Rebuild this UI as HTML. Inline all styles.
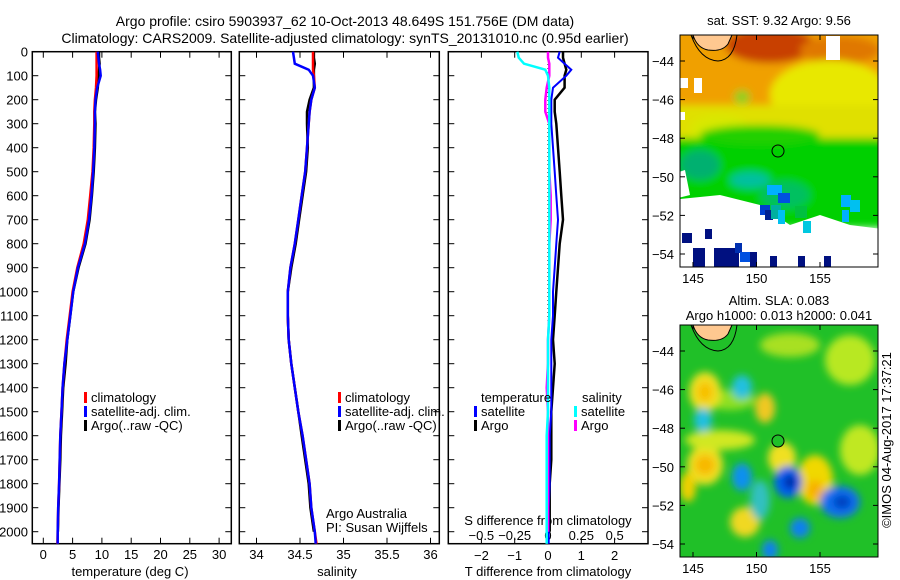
<!DOCTYPE html>
<html><head><meta charset="utf-8"><style>
body{margin:0;background:#fff;}
svg{display:block;font-family:"Liberation Sans",sans-serif;}
text{font-size:13px;fill:#000;}
</style></head><body>
<svg id="c" width="900" height="580" viewBox="0 0 900 580" xmlns="http://www.w3.org/2000/svg">
<defs>
<filter id="blur4" x="-20%" y="-20%" width="140%" height="140%"><feGaussianBlur stdDeviation="4"/></filter>
<filter id="blur8" x="-30%" y="-30%" width="160%" height="160%"><feGaussianBlur stdDeviation="4"/></filter>
<clipPath id="clipTop"><rect x="680" y="35" width="198" height="232"/></clipPath>
<clipPath id="clipBot"><rect x="680" y="325" width="198" height="232"/></clipPath>
</defs>
<text x="345" y="26" text-anchor="middle" style="font-size:14px">Argo profile: csiro 5903937_62 10-Oct-2013 48.649S 151.756E (DM data)</text>
<text x="345" y="43" text-anchor="middle" style="font-size:14px">Climatology: CARS2009. Satellite-adjusted climatology: synTS_20131010.nc (0.95d earlier)</text>
<g id="maps">
<text x="779" y="25" text-anchor="middle">sat. SST: 9.32 Argo: 9.56</text>
<g clip-path="url(#clipTop)">
<g filter="url(#blur4)">
<rect x="670" y="25" width="220" height="90" fill="#f0a000"/>
<ellipse cx="770" cy="45" rx="45" ry="18" fill="#c84000"/>
<ellipse cx="840" cy="50" rx="40" ry="14" fill="#e07800"/>
<ellipse cx="830" cy="95" rx="60" ry="35" fill="#e8e800"/>
<rect x="670" y="105" width="220" height="40" fill="#e0e000"/>
<ellipse cx="720" cy="130" rx="30" ry="15" fill="#d8e800"/>
<ellipse cx="742" cy="97" rx="8" ry="7" fill="#90d020"/>
<rect x="670" y="138" width="220" height="90" fill="#00d000"/>
<ellipse cx="760" cy="135" rx="60" ry="10" fill="#20d000"/>
<ellipse cx="700" cy="165" rx="20" ry="15" fill="#00b070"/>
<ellipse cx="785" cy="195" rx="25" ry="14" fill="#00c060"/>
<ellipse cx="750" cy="180" rx="20" ry="8" fill="#00c0a0"/>
</g>
<polygon points="670,200 720,195 760,205 790,225 820,215 850,225 890,230 890,290 670,290" fill="#fff"/>
<polygon points="670,175 685,170 690,195 670,200" fill="#fff"/>
<rect x="767" y="185" width="15" height="10" fill="#00b0ff"/>
<rect x="778" y="193" width="12" height="10" fill="#0050e0"/>
<rect x="760" y="205" width="10" height="10" fill="#0040d0"/>
<rect x="765" y="210" width="8" height="10" fill="#002090"/>
<rect x="771" y="205" width="10" height="14" fill="#00b0a0"/>
<rect x="778" y="210" width="7" height="14" fill="#00c0f0"/>
<rect x="795" y="206" width="12" height="12" fill="#00c040"/>
<rect x="841" y="195" width="10" height="12" fill="#00b0ff"/>
<rect x="850" y="200" width="10" height="12" fill="#00c0f0"/>
<rect x="842" y="210" width="7" height="12" fill="#00b0ff"/>
<rect x="803" y="221" width="8" height="12" fill="#00c8e0"/>
<rect x="682" y="233" width="10" height="10" fill="#001080"/>
<rect x="705" y="229" width="7" height="10" fill="#001080"/>
<rect x="693" y="248" width="12" height="20" fill="#001080"/>
<rect x="714" y="248" width="25" height="20" fill="#001080"/>
<rect x="735" y="243" width="7" height="10" fill="#0030b0"/>
<rect x="740" y="252" width="12" height="10" fill="#0050e0"/>
<rect x="750" y="252" width="7" height="16" fill="#001080"/>
<rect x="770" y="256" width="7" height="12" fill="#001080"/>
<rect x="798" y="256" width="7" height="12" fill="#001080"/>
<rect x="824" y="256" width="7" height="12" fill="#001080"/>
<rect x="826" y="36" width="14" height="24" fill="#fff"/>
<rect x="680" y="78" width="8" height="10" fill="#fff"/>
<rect x="694" y="78" width="8" height="15" fill="#fff"/>
<rect x="680" y="112" width="5" height="8" fill="#fff"/>
<path d="M693,35 Q697,48 708,50 Q722,52 728,44 L732,35 Z" fill="#ffc890" stroke="#000" stroke-width="1"/>
<path d="M691,35 Q700,60 718,61 Q734,60 737,35" fill="none" stroke="#000" stroke-width="1"/>
</g>
<rect x="680" y="35" width="198" height="232" fill="none" stroke="#000"/>
<circle cx="778" cy="151" r="6" fill="none" stroke="#000"/>

<text x="779" y="305" text-anchor="middle">Altim. SLA: 0.083</text>
<text x="779" y="320" text-anchor="middle">Argo h1000: 0.013 h2000: 0.041</text>
<g clip-path="url(#clipBot)">
<rect x="680" y="325" width="198" height="232" fill="#20c028"/>
<g filter="url(#blur8)">
<ellipse cx="790" cy="345" rx="30" ry="12" fill="#a8e020"/>
<ellipse cx="850" cy="360" rx="25" ry="25" fill="#b8e820"/>
<ellipse cx="730" cy="400" rx="25" ry="10" fill="#90e020"/>
<ellipse cx="705" cy="392" rx="16" ry="20" fill="#f0e020"/>
<ellipse cx="705" cy="392" rx="8" ry="10" fill="#f8c000"/>
<ellipse cx="765" cy="408" rx="10" ry="15" fill="#f0c820"/>
<ellipse cx="705" cy="465" rx="18" ry="20" fill="#f0e020"/>
<ellipse cx="705" cy="465" rx="10" ry="10" fill="#f8b800"/>
<ellipse cx="688" cy="487" rx="8" ry="15" fill="#f0d000"/>
<ellipse cx="782" cy="458" rx="14" ry="16" fill="#f0e020"/>
<ellipse cx="815" cy="480" rx="18" ry="25" fill="#f0d800"/>
<ellipse cx="815" cy="490" rx="8" ry="10" fill="#f8b000"/>
<ellipse cx="745" cy="522" rx="15" ry="15" fill="#f0d820"/>
<ellipse cx="720" cy="440" rx="35" ry="10" fill="#d0e820"/>
<ellipse cx="860" cy="450" rx="20" ry="25" fill="#c0e820"/>
<ellipse cx="742" cy="387" rx="10" ry="12" fill="#20c0e0"/>
<ellipse cx="703" cy="420" rx="9" ry="12" fill="#20c0e0"/>
<ellipse cx="742" cy="477" rx="10" ry="14" fill="#1090f0"/>
<ellipse cx="788" cy="482" rx="14" ry="16" fill="#0060f0"/>
<ellipse cx="790" cy="482" rx="6" ry="7" fill="#0020a0"/>
<ellipse cx="840" cy="502" rx="20" ry="16" fill="#1070f0"/>
<ellipse cx="842" cy="502" rx="9" ry="7" fill="#0040c0"/>
<ellipse cx="800" cy="528" rx="10" ry="10" fill="#1080f0"/>
<ellipse cx="770" cy="550" rx="8" ry="10" fill="#1080f0"/>
<ellipse cx="760" cy="500" rx="10" ry="20" fill="#30c0c0"/>
</g>
<path d="M693,325 Q697,338 708,340 Q722,342 728,334 L732,325 Z" fill="#ffc890" stroke="#000" stroke-width="1"/>
<path d="M691,325 Q700,350 718,351 Q734,350 737,325" fill="none" stroke="#000" stroke-width="1"/>
</g>
<rect x="680" y="325" width="198" height="232" fill="none" stroke="#000"/>
<circle cx="778" cy="441" r="6" fill="#20c028" stroke="#000"/>
<text transform="translate(891,440) rotate(-90)" text-anchor="middle">©IMOS 04-Aug-2017 17:37:21</text>
</g>
</svg>
<script>
const depths = [0,25,50,75,100,150,200,250,300,400,500,600,700,800,900,1000,1100,1200,1300,1400,1500,1600,1700,1800,1900,2000,2050];
const tClim = [9.1,9.1,9.1,9.1,9.1,9.0,8.8,8.7,8.7,8.6,8.4,8.0,7.6,6.9,5.8,5.0,4.5,4.0,3.6,3.3,3.1,2.9,2.8,2.7,2.55,2.45,2.4];
const tSat = [9.3,9.4,9.5,9.7,9.8,9.2,8.9,8.8,8.8,8.7,8.5,8.2,7.8,7.1,5.9,5.1,4.6,4.1,3.6,3.3,3.1,2.9,2.8,2.7,2.55,2.45,2.45];
const tArgo = [9.5,9.5,9.6,9.5,9.4,9.3,9.0,8.8,8.9,8.8,8.6,8.3,7.9,7.2,6.0,5.1,4.6,4.1,3.8,3.4,3.2,3.0,2.9,2.75,2.6,2.5,null];
const sClim = [34.65,34.65,34.65,34.65,34.66,34.67,34.63,34.61,34.6,34.58,34.56,34.52,34.48,34.44,34.39,34.36,34.36,34.37,34.4,34.44,34.48,34.53,34.57,34.61,34.63,34.67,34.69];
const sSat = [34.42,34.43,34.44,34.6,34.65,34.67,34.63,34.61,34.6,34.58,34.56,34.52,34.48,34.44,34.39,34.36,34.36,34.37,34.4,34.44,34.48,34.53,34.57,34.61,34.63,34.67,34.68];
const sArgo = [34.66,34.66,34.67,34.66,34.66,34.66,34.61,34.58,34.58,34.59,34.57,34.53,34.49,34.45,34.40,34.36,34.36,34.37,34.40,34.44,34.48,34.52,34.56,34.60,34.62,34.66,null];
const tDiffSat = [0.35,0.3,0.5,0.7,0.55,0.15,0.1,0.1,0.1,0.15,0.2,0.25,0.3,0.25,0.2,0.15,0.15,0.1,0.1,0.1,0.1,0.05,0.05,0.05,0.02,0.02,0.02];
const tDiffArgo = [0.45,0.45,0.5,0.55,0.5,0.5,0.2,0.2,0.25,0.3,0.35,0.4,0.45,0.35,0.3,0.25,0.2,0.15,0.2,0.15,0.1,0.1,0.1,0.05,0.05,0.05,null];
const sDiffSat = [-0.23,-0.22,-0.18,-0.02,0,0.01,0.01,0.01,0.01,0.01,0.01,0.01,0.01,0.01,0.01,0.01,0.01,0.0,0.0,0.0,0.0,-0.01,-0.01,-0.01,-0.01,-0.01,-0.01];
const sDiffArgo = [0,0,0.01,0.01,0.01,-0.01,-0.02,-0.02,0.01,0.01,0.01,0.02,0.02,0.01,0.01,0.01,0.01,0,0,-0.01,0,0,0,0,0,0,null];
const depthTicks = [0,100,200,300,400,500,600,700,800,900,1000,1100,1200,1300,1400,1500,1600,1700,1800,1900,2000];
const tTicks = [0,5,10,15,20,25,30];
const sTicks = [34,34.5,35,35.5,36];
const dTTicks = [-2,-1,0,1,2];
const dSTicks = [-0.5,-0.25,0,0.25,0.5];
const dSTickLabels = ["-0.5","-0.25","0","0.25","0.5"];
const latTicks = [-44,-46,-48,-50,-52,-54];
const lonTicks = [145,150,155];

const NS='http://www.w3.org/2000/svg';
const svg=document.getElementById('c');
function mk(tag,attrs,parent){const e=document.createElementNS(NS,tag);for(const k in attrs)e.setAttribute(k,attrs[k]);(parent||svg).appendChild(e);return e;}
function txt(x,y,s,anchor,parent){const e=mk('text',{x:x,y:y,'text-anchor':anchor||'start'},parent);e.textContent=s;return e;}

const yD=d=>51.7+d*0.2400;
const xT=v=>43.3+v*5.86;
const xS=v=>300+(v-34.5)*87;
const xDT=v=>548+v*33.3;
const xDS=v=>548+v*133.3;
const yTop=lat=>61+(-44-lat)*19.3;
const yBot=lat=>351+(-44-lat)*19.3;
const xLon=lon=>693+(lon-145)*12.7;

function panel(name){
  const g=mk('g',{});
  
  
  return g;
}
function frame(g,x0,x1,name){
  const r=mk('rect',{x:x0,y:51.7,width:x1-x0,height:492,fill:'none',stroke:'#000','stroke-width':1.5},g);
  
  
  depthTicks.forEach(d=>{
    mk('line',{x1:x0,x2:x0+6,y1:yD(d),y2:yD(d),stroke:'#000'},g);
    mk('line',{x1:x1,x2:x1-6,y1:yD(d),y2:yD(d),stroke:'#000'},g);
  });
}
function stepLine(g,xf,vals,color,name,w){
  let p='';let started=false;
  for(let i=0;i<depths.length;i++){
    if(vals[i]==null)continue;
    const x=xf(vals[i]).toFixed(1),y=yD(depths[i]).toFixed(1);
    p+=(started?'L':'M')+x+','+y+' ';started=true;
  }
  const e=mk('path',{d:p,fill:'none',stroke:color,'stroke-width':w||2.5},g);
  
  
}
function legendEntry(g,x,y,color,label,name){
  const gg=mk('g',{},g);
  
  
  mk('rect',{x:x,y:y-10,width:3,height:11,fill:color},gg);
  txt(x+7,y,label,'start',gg);
}

const p1=panel('temperature-panel');
frame(p1,32.3,231.3,'temperature-frame');
depthTicks.forEach(d=>{txt(28,yD(d)+5,String(d),'end',p1);});
tTicks.forEach(v=>{mk('line',{x1:xT(v),x2:xT(v),y1:543.7,y2:537.7,stroke:'#000'},p1);mk('line',{x1:xT(v),x2:xT(v),y1:51.7,y2:57.7,stroke:'#000'},p1);txt(xT(v),559,String(v),'middle',p1);});
txt(130,576,'temperature (deg C)','middle',p1);
stepLine(p1,xT,tArgo,'#000','temp-argo-line');
stepLine(p1,xT,tClim,'#f00','temp-climatology-line');
stepLine(p1,xT,tSat,'#00f','temp-satellite-line');
legendEntry(p1,84,402,'#f00','climatology','temp-legend-climatology');
legendEntry(p1,84,416,'#00f','satellite-adj. clim.','temp-legend-satellite');
legendEntry(p1,84,430,'#000','Argo(..raw -QC)','temp-legend-argo');

const p2=panel('salinity-panel');
frame(p2,239.3,439.3,'salinity-frame');
sTicks.forEach(v=>{mk('line',{x1:xS(v),x2:xS(v),y1:543.7,y2:537.7,stroke:'#000'},p2);mk('line',{x1:xS(v),x2:xS(v),y1:51.7,y2:57.7,stroke:'#000'},p2);txt(xS(v),559,String(v),'middle',p2);});
txt(337,576,'salinity','middle',p2);
stepLine(p2,xS,sArgo,'#000','salinity-argo-line');
stepLine(p2,xS,sClim,'#f00','salinity-climatology-line');
stepLine(p2,xS,sSat,'#00f','salinity-satellite-line');
legendEntry(p2,338,402,'#f00','climatology','sal-legend-climatology');
legendEntry(p2,338,416,'#00f','satellite-adj. clim.','sal-legend-satellite');
legendEntry(p2,338,430,'#000','Argo(..raw -QC)','sal-legend-argo');
txt(326,518,'Argo Australia','start',p2);
txt(326,532,'PI: Susan Wijffels','start',p2);

const p3=panel('difference-panel');
frame(p3,448.3,648,'difference-frame');
mk('line',{x1:548,x2:548,y1:52,y2:543,stroke:'#000','stroke-dasharray':'1,3'},p3);
dTTicks.forEach(v=>{mk('line',{x1:xDT(v),x2:xDT(v),y1:543.7,y2:537.7,stroke:'#000'},p3);mk('line',{x1:xDT(v),x2:xDT(v),y1:51.7,y2:57.7,stroke:'#000'},p3);txt(xDT(v),560,String(v).replace('-','\u2212'),'middle',p3);});
dSTicks.forEach((v,i)=>{txt(xDS(v),540,dSTickLabels[i].replace('-','\u2212'),'middle',p3);});
txt(548,525,'S difference from climatology','middle',p3);
txt(548,576,'T difference from climatology','middle',p3);
stepLine(p3,xDT,tDiffArgo,'#000','tdiff-argo-line');
stepLine(p3,xDT,tDiffSat,'#00f','tdiff-satellite-line',2);
stepLine(p3,xDS,sDiffArgo,'#f0f','sdiff-argo-line');
stepLine(p3,xDS,sDiffSat,'#0ff','sdiff-satellite-line');
txt(481,402,'temperature','start',p3);
legendEntry(p3,474,416,'#00f','satellite','tdiff-legend-satellite');
legendEntry(p3,474,430,'#000','Argo','tdiff-legend-argo');
txt(582,402,'salinity','start',p3);
legendEntry(p3,574,416,'#0ff','satellite','sdiff-legend-satellite');
legendEntry(p3,574,430,'#f0f','Argo','sdiff-legend-argo');

const ax=mk('g',{});


latTicks.forEach(l=>{
  [yTop,yBot].forEach(f=>{
    const y=f(l);
    mk('line',{x1:680,x2:685,y1:y,y2:y,stroke:'#000'},ax);
    mk('line',{x1:878,x2:873,y1:y,y2:y,stroke:'#000'},ax);
    txt(674,y+5,String(l).replace('-','\u2212'),'end',ax);
  });
});
lonTicks.forEach(l=>{
  const x=xLon(l);
  [[35,267,283],[325,557,573]].forEach(([t,b,ly])=>{
    mk('line',{x1:x,x2:x,y1:t,y2:t+5,stroke:'#000'},ax);
    mk('line',{x1:x,x2:x,y1:b,y2:b-5,stroke:'#000'},ax);
    txt(x,ly,String(l),'middle',ax);
  });
});
</script>
</body></html>
